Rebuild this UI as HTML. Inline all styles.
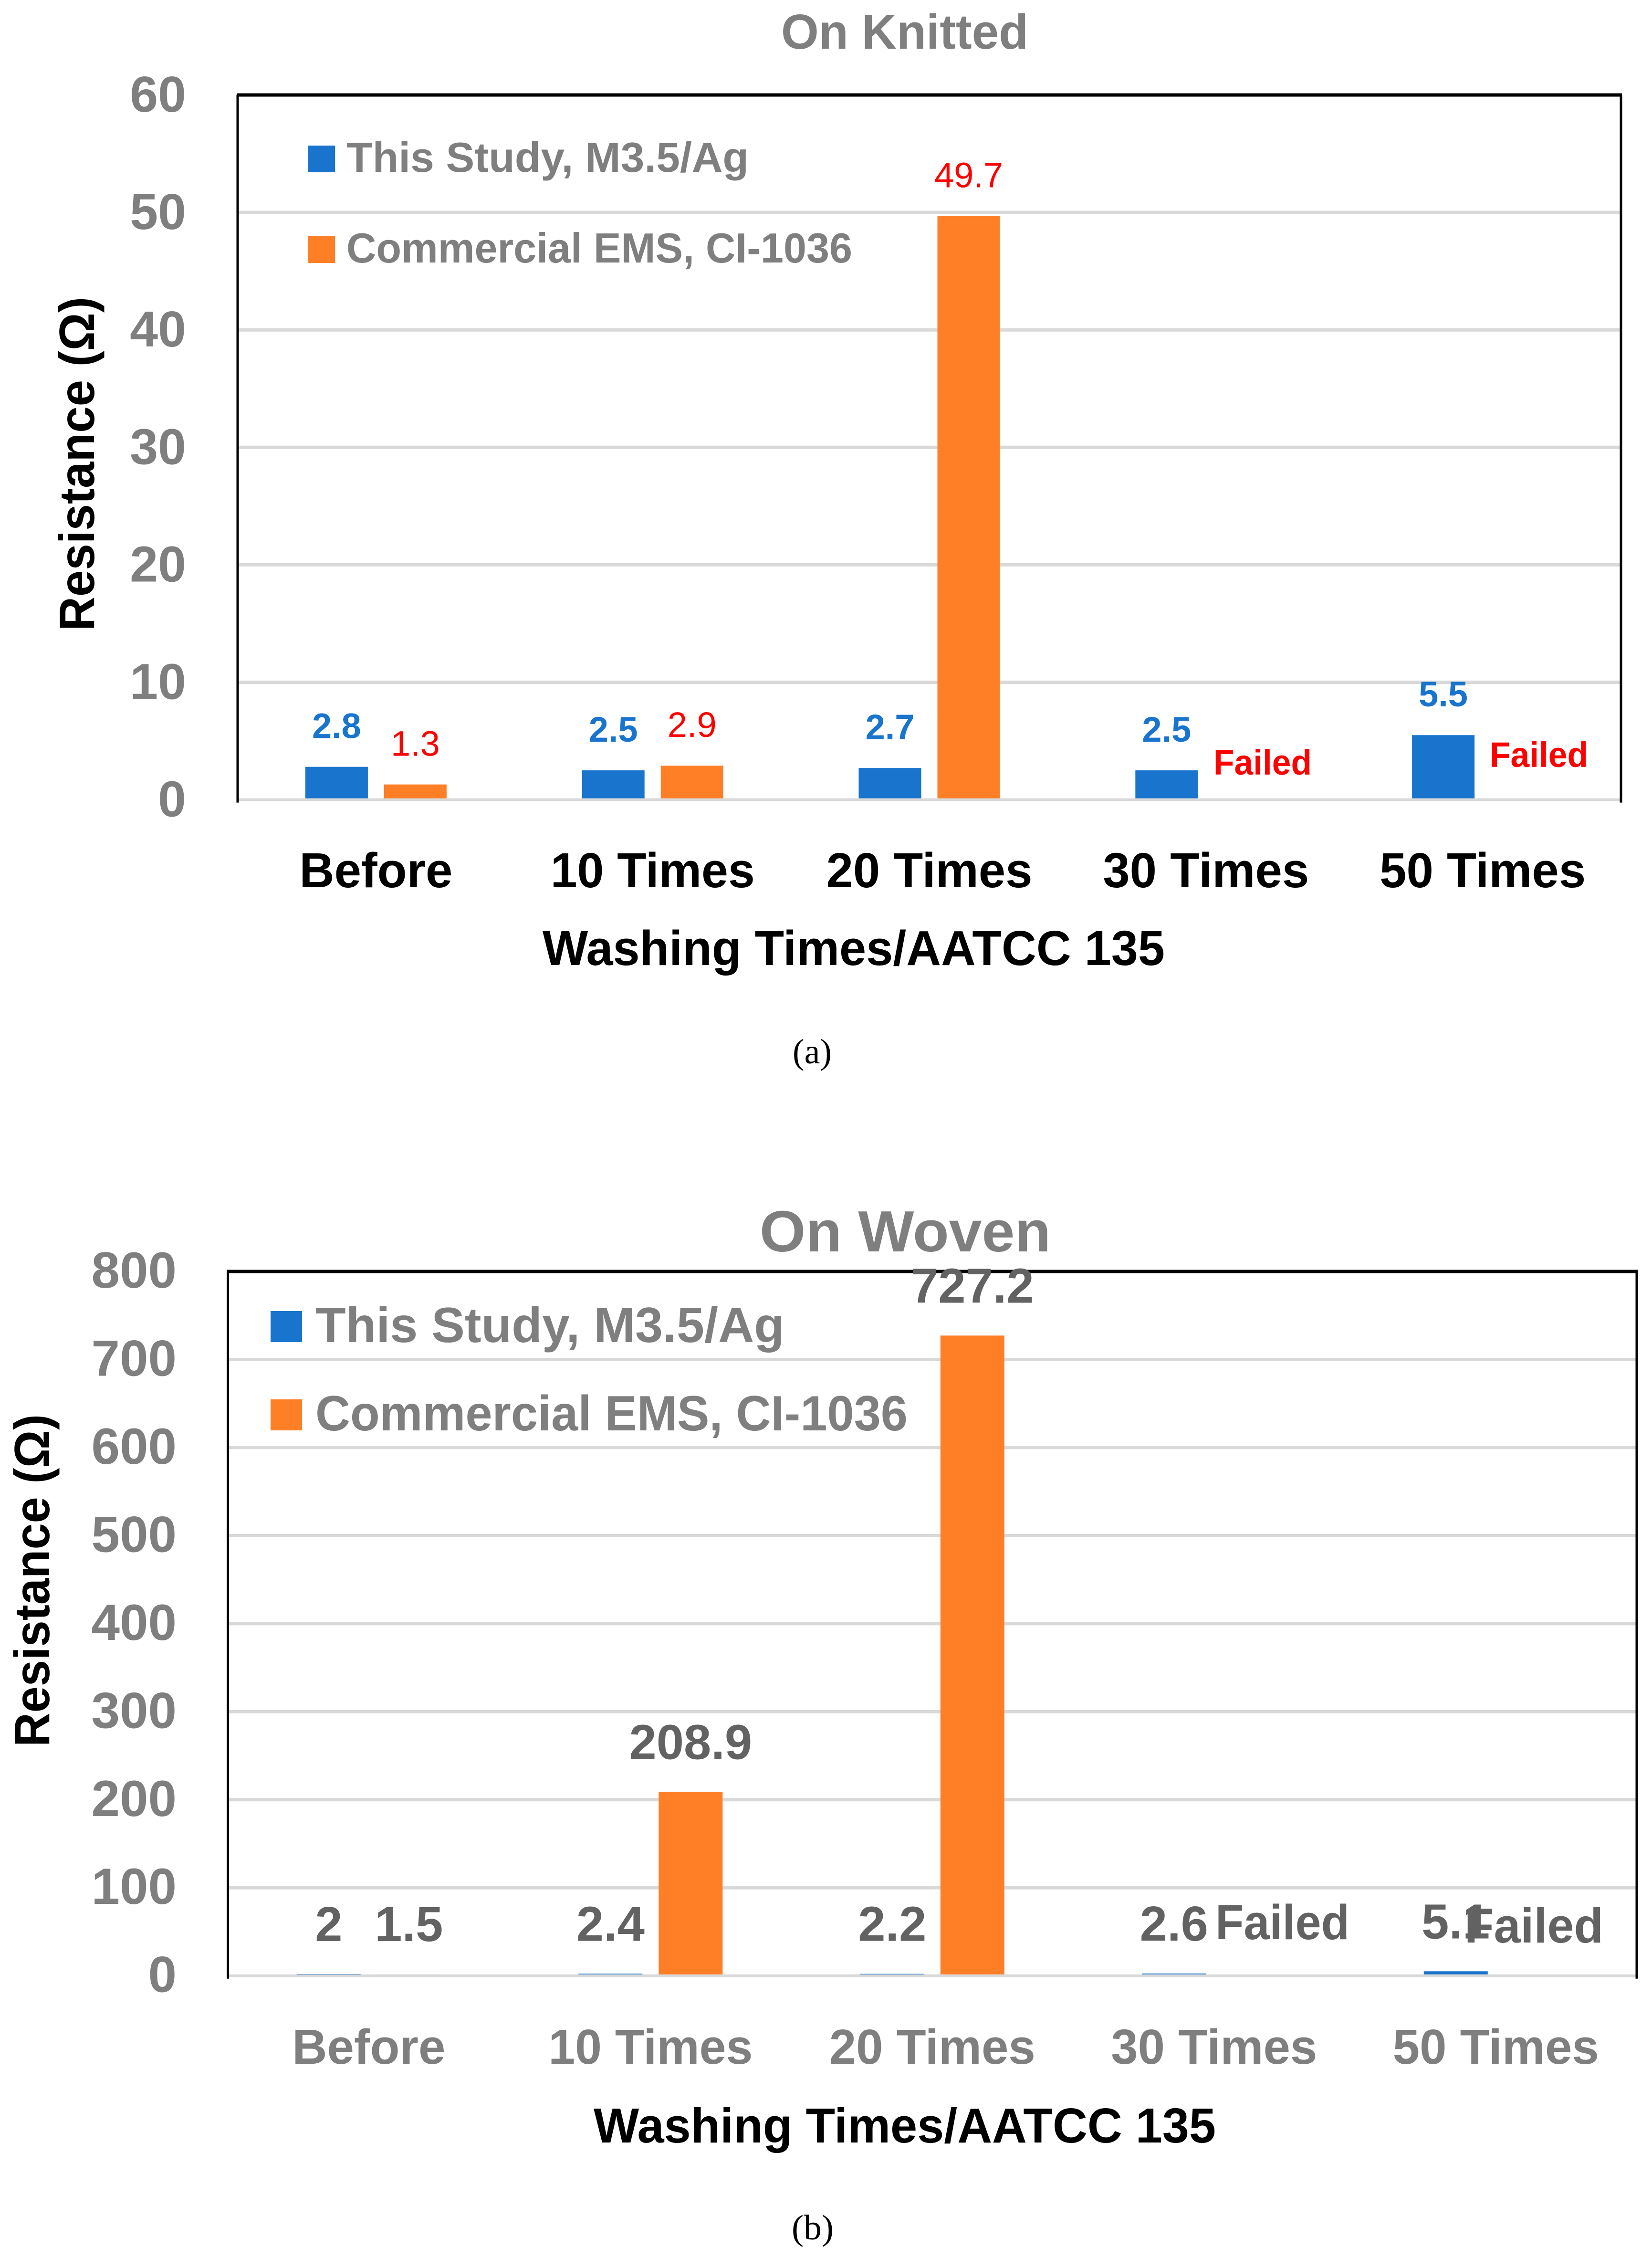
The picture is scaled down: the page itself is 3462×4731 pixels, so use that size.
<!DOCTYPE html>
<html lang="en">
<head>
<meta charset="utf-8">
<title>Washing durability of resistance on knitted and woven fabrics</title>
<style>
  html, body { margin: 0; padding: 0; background: #ffffff; }
  svg { display: block; }
  text { font-family: "Liberation Sans", "DejaVu Sans", sans-serif; }
  .bold { font-weight: 700; }
  .gray { fill: #7f7f7f; }
  .black { fill: #000000; }
  .cap { font-family: "Liberation Serif", serif; font-size: 74px; fill: #000000; }
</style>
</head>
<body>
<svg id="figure" xmlns="http://www.w3.org/2000/svg" width="3462" height="4731" viewBox="0 0 3462 4731">
  <rect x="0" y="0" width="3462" height="4731" fill="#ffffff"/>

  <g id="chart-a">
    <g id="a-marks"></g>
    <text class="bold gray" x="1637" y="102" font-size="103" textLength="518" lengthAdjust="spacingAndGlyphs">On Knitted</text>
    <text class="bold black" transform="translate(197,1322) rotate(-90)" font-size="104" textLength="700" lengthAdjust="spacingAndGlyphs">Resistance (Ω)</text>
    <text class="bold black" x="1137" y="2022" font-size="103" textLength="1304" lengthAdjust="spacingAndGlyphs">Washing Times/AATCC 135</text>
    <rect x="645" y="305" width="57" height="56" fill="#1874cd"/>
    <text class="bold gray" x="726" y="360" font-size="88" textLength="843" lengthAdjust="spacingAndGlyphs">This Study, M3.5/Ag</text>
    <rect x="645" y="495" width="57" height="56" fill="#ff7f27"/>
    <text class="bold gray" x="726" y="550" font-size="88" textLength="1060" lengthAdjust="spacingAndGlyphs">Commercial EMS, CI-1036</text>
    <text class="cap" x="1661" y="2228" textLength="82" lengthAdjust="spacingAndGlyphs">(a)</text>
  </g>

  <g id="chart-b">
    <g id="b-marks"></g>
    <text class="bold gray" x="1592" y="2622" font-size="122" textLength="610" lengthAdjust="spacingAndGlyphs">On Woven</text>
    <text class="bold black" transform="translate(103,3660) rotate(-90)" font-size="104" textLength="697" lengthAdjust="spacingAndGlyphs">Resistance (Ω)</text>
    <text class="bold black" x="1244" y="4489" font-size="103" textLength="1304" lengthAdjust="spacingAndGlyphs">Washing Times/AATCC 135</text>
    <rect x="567" y="2747" width="66" height="65" fill="#1874cd"/>
    <text class="bold gray" x="661" y="2812" font-size="104" textLength="983" lengthAdjust="spacingAndGlyphs">This Study, M3.5/Ag</text>
    <rect x="567" y="2932" width="66" height="65" fill="#ff7f27"/>
    <text class="bold gray" x="661" y="2997" font-size="104" textLength="1241" lengthAdjust="spacingAndGlyphs">Commercial EMS, CI-1036</text>
    <text class="cap" x="1659" y="4692" textLength="88" lengthAdjust="spacingAndGlyphs">(b)</text>
  </g>
</svg>

<script>
// ---- chart data ----
const categories = ['Before', '10 Times', '20 Times', '30 Times', '50 Times'];

const knittedTicks = [0, 10, 20, 30, 40, 50, 60];
const knittedThisStudy = [2.8, 2.5, 2.7, 2.5, 5.5];
const knittedCommercial = [1.3, 2.9, 49.7, null, null];

const wovenTicks = [0, 100, 200, 300, 400, 500, 600, 700, 800];
const wovenThisStudy = [2, 2.4, 2.2, 2.6, 5.1];
const wovenCommercial = [1.5, 208.9, 727.2, null, null];

const NS = 'http://www.w3.org/2000/svg';

function makeEl(tag, attrs, parent, content) {
  const el = document.createElementNS(NS, tag);
  for (const k in attrs) el.setAttribute(k, attrs[k]);
  if (content !== undefined) el.textContent = content;
  parent.appendChild(el);
  return el;
}

function drawChart(cfg) {
  const root = document.getElementById(cfg.rootId);
  const yScale = v => cfg.y0 - (v / cfg.yMax) * (cfg.y0 - cfg.yTop);
  const bandW = (cfg.xRight - cfg.xLeft) / categories.length;
  const bandCenter = i => cfg.xLeft + bandW * (i + 0.5);

  // gridlines + y tick labels
  cfg.ticks.forEach(t => {
    if (t !== 0 && t !== cfg.yMax) {
      const line = makeEl('line', {x1: cfg.xLeft, x2: cfg.xRight, y1: yScale(t), y2: yScale(t), stroke: '#d9d9d9', 'stroke-width': 7}, root);
      
      
    }
    const lab = makeEl('text', {x: cfg.tickRight, y: yScale(t) + cfg.tickDy, 'text-anchor': 'end', 'font-size': cfg.tickSize, 'font-weight': 700, fill: '#7f7f7f'}, root, String(t));
    
    
  });

  // bars
  categories.forEach((c, i) => {
    const cx = bandCenter(i);
    const blueV = cfg.blue[i];
    const orangeV = cfg.orange[i];
    const blue = makeEl('rect', {x: cx - cfg.gap / 2 - cfg.barW, y: yScale(blueV), width: cfg.barW, height: cfg.y0 - yScale(blueV), fill: '#1874cd'}, root);
    
    
    if (orangeV !== null) {
      const orange = makeEl('rect', {x: cx + cfg.gap / 2, y: yScale(orangeV), width: cfg.barW, height: cfg.y0 - yScale(orangeV), fill: '#ff7f27'}, root);
      
      
    }
  });

  // baseline and frame
  const baseline = makeEl('line', {x1: cfg.xLeft, x2: cfg.xRight, y1: cfg.y0, y2: cfg.y0, stroke: '#d9d9d9', 'stroke-width': 6}, root);
  
  
  const top = makeEl('line', {x1: cfg.xLeft - 2, x2: cfg.xRight + 2, y1: cfg.yTop, y2: cfg.yTop, stroke: '#000', 'stroke-width': 7}, root);
  
  
  const left = makeEl('line', {x1: cfg.xLeft, x2: cfg.xLeft, y1: cfg.yTop, y2: cfg.y0 + 6, stroke: '#000', 'stroke-width': 5}, root);
  
  
  const right = makeEl('line', {x1: cfg.xRight, x2: cfg.xRight, y1: cfg.yTop, y2: cfg.y0 + 6, stroke: '#000', 'stroke-width': 5}, root);
  
  

  // category labels
  categories.forEach((c, i) => {
    const w = c === 'Before' ? 321 : (i === 1 ? 428 : 432);
    const lab = makeEl('text', {x: bandCenter(i) + cfg.catDx - w / 2, y: cfg.catY, 'font-size': 103, 'font-weight': 700, fill: cfg.catColor, textLength: w, lengthAdjust: 'spacingAndGlyphs'}, root, c);
    
    
  });

  // value labels
  categories.forEach((c, i) => {
    const cx = bandCenter(i);
    const bx = cx - cfg.gap / 2 - cfg.barW / 2;
    const ox = cx + cfg.gap / 2 + cfg.barW / 2;
    const blueLabel = makeEl('text', {x: bx, y: Math.min(yScale(cfg.blue[i]) - cfg.labelOffset, cfg.labelCap), 'text-anchor': 'middle', 'font-size': cfg.labelSize, 'font-weight': 700, fill: cfg.blueLabelColor}, root, String(cfg.blue[i]));
    
    
    if (cfg.orange[i] !== null) {
      const orangeLabel = makeEl('text', {x: ox, y: Math.min(yScale(cfg.orange[i]) - cfg.labelOffset, cfg.labelCap), 'text-anchor': 'middle', 'font-size': cfg.labelSize, 'font-weight': cfg.orangeLabelWeight, fill: cfg.orangeLabelColor}, root, String(cfg.orange[i]));
      
      
    } else {
      const f = cfg.failed[i];
      const failed = makeEl('text', {x: f.x, y: f.y, 'font-size': cfg.labelSize, 'font-weight': 700, fill: cfg.failedColor, textLength: f.w, lengthAdjust: 'spacingAndGlyphs'}, root, 'Failed');
      
      
    }
  });
}

drawChart({
  rootId: 'a-marks',
  ticks: knittedTicks, blue: knittedThisStudy, orange: knittedCommercial,
  yMax: 60, y0: 1675.6, yTop: 199, xLeft: 498, xRight: 3397,
  tickRight: 390, tickDy: 35, tickSize: 106,
  barW: 131, gap: 34,
  catDx: 0, catY: 1859, catColor: '#000000',
  labelOffset: 60, labelSize: 74, labelCap: 10000,
  blueLabelColor: '#1874cd', orangeLabelColor: '#ff0000', orangeLabelWeight: 400, failedColor: '#ff0000',
  failed: {3: {x: 2543, y: 1623, w: 206}, 4: {x: 3122, y: 1607, w: 206}}
});

drawChart({
  rootId: 'b-marks',
  ticks: wovenTicks, blue: wovenThisStudy, orange: wovenCommercial,
  yMax: 800, y0: 4139.7, yTop: 2664, xLeft: 477.6, xRight: 3430,
  tickRight: 370, tickDy: 34, tickSize: 107,
  barW: 134, gap: 34,
  catDx: 0, catY: 4324, catColor: '#7f7f7f',
  labelOffset: 69, labelSize: 103, labelCap: 4067,
  blueLabelColor: '#626262', orangeLabelColor: '#626262', orangeLabelWeight: 700, failedColor: '#626262',
  failed: {3: {x: 2547, y: 4063, w: 281}, 4: {x: 3069, y: 4070, w: 291}}
});
</script>
</body>
</html>
